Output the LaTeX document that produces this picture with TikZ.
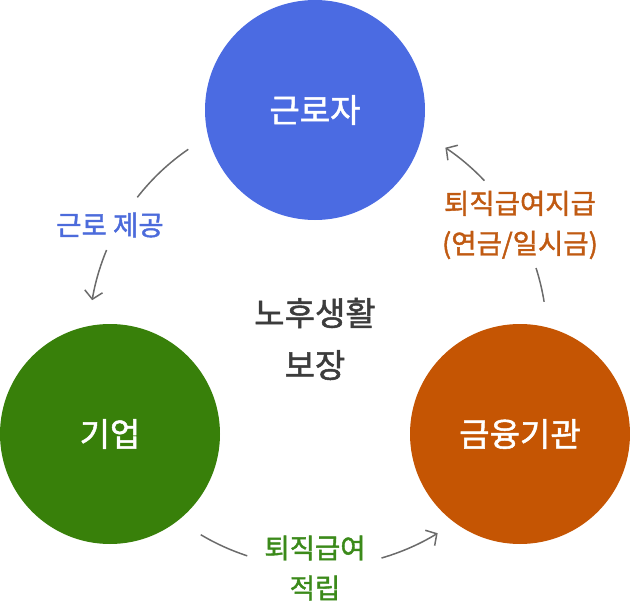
\documentclass[tikz,border=0pt]{standalone}
\usepackage{fontspec}
\setmainfont{Noto Sans CJK KR}[FakeBold=1.5,AutoFakeBold=0]
\usetikzlibrary{arrows.meta,calc}
\definecolor{cblue}{HTML}{4B6BE2}
\definecolor{cgreen}{HTML}{38800A}
\definecolor{corange}{HTML}{C55503}
\definecolor{lblue}{HTML}{4C6BDB}
\definecolor{lgreen}{HTML}{3B8A1A}
\definecolor{lorange}{HTML}{C05A12}
\definecolor{ctext}{HTML}{3C3C3C}
\definecolor{cgray}{HTML}{6B6B6B}
\begin{document}
\begin{tikzpicture}[x=1pt,y=-1pt,
  party/.style={circle,minimum size=220pt,inner sep=0pt,text=white,
    font=\fontsize{33}{40}\selectfont},
  lbl/.style={align=center,font=\fontsize{27.5}{40}\selectfont},
  flow/.style={draw=cgray,line width=1.5pt},
  flowtip/.style={flow,-{Straight Barb[length=8pt,width=18pt,line width=1.5pt]}}]
\useasboundingbox (0,0) rectangle (630,608);
\node[party,fill=cblue] (work) at (315,110) {근로자};
\node[party,fill=cgreen] (firm) at (110,434) {기업};
\node[party,fill=corange] (bank) at (520,434) {금융기관};
\node[align=center,text=ctext,font=\fontsize{33}{52}\selectfont] (goal) at (315,339) {노후생활\\보장};
\node[lbl,text=lblue] (l1) at (110,225) {근로 제공};
\node[lbl,text=lgreen] (l2) at (315,568) {퇴직급여\\적립};
\node[lbl,text=lorange] (l3) at (520,225) {퇴직급여지급\\(연금/일시금)};
\coordinate (ctr) at (318,338);
\coordinate (a1) at ($(ctr)+(-124.5:229)$);
\coordinate (a2) at ($(ctr)+(-157.4:229)$);
\coordinate (b1) at ($(ctr)+(-239.2:229)$);
\coordinate (b2) at ($(ctr)+(-286.1:229)$);
\coordinate (c1) at ($(ctr)+(-9.1:229)$);
\coordinate (c2) at ($(ctr)+(-43.4:229)$);
\draw[flow] (a1) arc[start angle=-124.5,end angle=-142.1,radius=229];
\draw[flowtip] (a2) arc[start angle=-157.4,end angle=-170.5,radius=229];
\draw[flow] (b1) arc[start angle=-239.2,end angle=-252,radius=229];
\draw[flowtip] (b2) arc[start angle=-286.1,end angle=-301.5,radius=229];
\draw[flow] (c1) arc[start angle=-9.1,end angle=-17.8,radius=229];
\draw[flowtip] (c2) arc[start angle=-43.4,end angle=-56.2,radius=229];
\end{tikzpicture}
\end{document}
